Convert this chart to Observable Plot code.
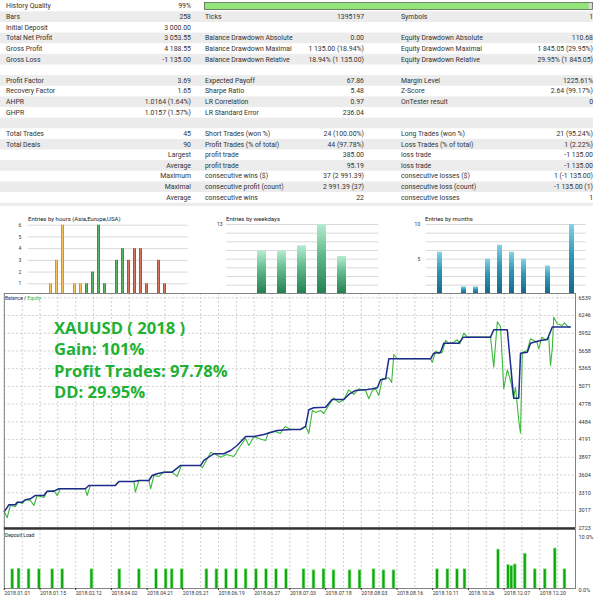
<!DOCTYPE html>
<html><head><meta charset="utf-8">
<script src="https://cdn.jsdelivr.net/npm/d3@7"></script>
<script src="https://cdn.jsdelivr.net/npm/@observablehq/plot@0.6"></script>
<style>
body{margin:0;background:#fff;width:600px;height:600px;overflow:hidden;position:relative;font-family:Roboto,"Liberation Sans",sans-serif}
.abs{position:absolute}
.ttl{position:absolute;font-size:6px;color:#222;white-space:nowrap}
</style></head><body>
<div id="table" class="abs" style="left:0;top:0"></div>
<div id="hours" class="abs" style="left:0;top:205px;width:200px;height:88px;overflow:hidden"></div>
<div id="weekdays" class="abs" style="left:200px;top:205px;width:200px;height:88px;overflow:hidden"></div>
<div id="months" class="abs" style="left:400px;top:205px;width:200px;height:88px;overflow:hidden"></div>
<div class="ttl" style="left:28px;top:215px">Entries by hours (Asia,Europe,USA)</div>
<div class="ttl" style="left:226px;top:215px">Entries by weekdays</div>
<div class="ttl" style="left:425px;top:215px">Entries by months</div>
<div id="load" class="abs" style="left:0;top:529px"></div>
<div id="main" class="abs" style="left:0;top:293px"></div>
<div class="ttl" style="left:5px;top:295px;font-size:5px"><span style="color:#1e2a8c">Balance</span> / <span style="color:#3cb83c">Equity</span></div>
<div class="ttl" style="left:5px;top:532px;font-size:5px">Deposit Load</div>
<svg class="abs" style="left:0;top:0;pointer-events:none" width="600" height="600">
  <g font-family="'Open Sans',Lato,sans-serif" font-weight="700" font-size="16.6" fill="#22b033">
    <text x="54" y="333.5">XAUUSD ( 2018 )</text>
    <text x="54" y="355">Gain: 101%</text>
    <text x="54" y="376.5">Profit Trades: 97.78%</text>
    <text x="54" y="398.3">DD: 29.95%</text>
  </g>
</svg>
<script>
// ---------- DATA ----------
const tableRows = [
 ["History Quality","99%","","","",""],
 ["Bars","258","Ticks","1395197","Symbols","1"],
 ["Initial Deposit","3 000.00","","","",""],
 ["Total Net Profit","3 053.55","Balance Drawdown Absolute","0.00","Equity Drawdown Absolute","110.68"],
 ["Gross Profit","4 188.55","Balance Drawdown Maximal","1 135.00 (18.94%)","Equity Drawdown Maximal","1 845.05 (29.95%)"],
 ["Gross Loss","-1 135.00","Balance Drawdown Relative","18.94% (1 135.00)","Equity Drawdown Relative","29.95% (1 845.05)"],
 [],
 ["Profit Factor","3.69","Expected Payoff","67.86","Margin Level","1225.61%"],
 ["Recovery Factor","1.65","Sharpe Ratio","5.48","Z-Score","2.64 (99.17%)"],
 ["AHPR","1.0164 (1.64%)","LR Correlation","0.97","OnTester result","0"],
 ["GHPR","1.0157 (1.57%)","LR Standard Error","236.04","",""],
 [],
 ["Total Trades","45","Short Trades (won %)","24 (100.00%)","Long Trades (won %)","21 (95.24%)"],
 ["Total Deals","90","Profit Trades (% of total)","44 (97.78%)","Loss Trades (% of total)","1 (2.22%)"],
 ["","Largest","profit trade","385.00","loss trade","-1 135.00"],
 ["","Average","profit trade","95.19","loss trade","-1 135.00"],
 ["","Maximum","consecutive wins ($)","37 (2 991.39)","consecutive losses ($)","1 (-1 135.00)"],
 ["","Maximal","consecutive profit (count)","2 991.39 (37)","consecutive loss (count)","-1 135.00 (1)"],
 ["","Average","consecutive wins","22","consecutive losses","1"],
 []
];
const historyQuality = 99;

const hours = d3.range(24);
const hourCounts = [0,0,1,3,6,0,1,1,1,2,6,1,0,3,4,3,4,4,1,0,3,1,0,0];
const hourZones = hours.map(h => h < 8 ? "Asia" : h < 15 ? "Europe" : "USA");

const weekdays = ["Sun","Mon","Tue","Wed","Thu","Fri","Sat"];
const weekdayCounts = [0,8,8,9,13,7,0];

const months = ["Jan","Feb","Mar","Apr","May","Jun","Jul","Aug","Sep","Oct","Nov","Dec"];
const monthCounts = [6,0,1,1,5,7,6,5,0,4,0,10];

const yTicks = [2723,3017,3310,3604,3897,4191,4484,4778,5071,5365,5658,5952,6246,6539];
const dateLabels = ["2018.01.01","2018.01.15","2018.02.12","2018.04.02","2018.04.21","2018.05.21","2018.06.19","2018.06.27","2018.07.03","2018.07.18","2018.08.03","2018.08.16","2018.10.11","2018.10.26","2018.12.07","2018.12.20"];

// [time index (one unit per date label), value]
const balance = [[0,3000],[0.13,3111],[0.31,3111],[0.36,3154],[0.50,3154],[0.59,3194],[0.73,3210],[0.87,3265],[1.11,3265],[1.20,3336],[1.39,3336],[1.53,3376],[2.27,3376],[2.37,3431],[3.11,3431],[3.21,3497],[3.63,3497],[3.77,3513],[4.05,3513],[4.14,3596],[4.28,3624],[4.47,3651],[4.70,3651],[4.94,3762],[5.50,3762],[5.59,3845],[5.87,3956],[6.15,3956],[6.34,4010],[6.52,4093],[6.76,4242],[6.99,4242],[7.27,4275],[7.64,4341],[8.02,4358],[8.30,4358],[8.44,4408],[8.53,4684],[8.67,4717],[9.00,4727],[9.18,4855],[9.51,4855],[9.65,4938],[9.84,5004],[10.17,5021],[10.31,5032],[10.45,5049],[10.54,5181],[10.68,5198],[10.77,5529],[11.94,5529],[12.03,5622],[12.22,5638],[12.31,5787],[12.73,5787],[12.86,5887],[13.62,5887],[13.71,6009],[14.09,6009],[14.27,4874],[14.41,4874],[14.46,5622],[14.65,5638],[14.74,5787],[14.83,5804],[15.02,5832],[15.21,5848],[15.35,6054],[15.67,6054],[15.85,6054]];

const equity = [[0,3000],[0.08,2896],[0.17,3099],[0.31,3083],[0.40,3154],[0.51,3133],[0.59,3194],[0.73,3183],[0.83,3099],[0.92,3265],[1.11,3232],[1.20,3336],[1.39,3348],[1.48,3265],[1.57,3376],[2.27,3376],[2.32,3265],[2.41,3431],[3.11,3431],[3.21,3497],[3.63,3497],[3.67,3320],[3.77,3513],[4.05,3513],[4.10,3376],[4.19,3596],[4.33,3580],[4.47,3651],[4.70,3651],[4.84,3580],[4.96,3762],[5.50,3762],[5.55,3724],[5.64,3828],[5.78,3977],[5.89,3956],[6.06,3899],[6.22,3944],[6.43,3911],[6.62,4093],[6.76,4209],[6.85,4093],[6.99,4242],[7.12,4209],[7.32,4176],[7.40,4308],[7.60,4325],[7.73,4292],[7.87,4408],[8.02,4358],[8.30,4358],[8.44,4408],[8.53,4297],[8.63,4673],[8.72,4640],[8.86,4673],[8.95,4623],[9.05,4723],[9.23,4883],[9.37,4805],[9.51,4850],[9.65,5015],[9.79,4938],[9.93,5032],[10.12,5004],[10.21,4866],[10.31,5004],[10.40,5032],[10.49,4921],[10.59,5198],[10.77,5214],[10.85,5136],[10.91,5600],[11.01,5529],[11.94,5529],[11.99,5468],[12.08,5655],[12.17,5612],[12.27,5638],[12.36,5832],[12.45,5787],[12.59,5804],[12.69,5843],[12.76,5777],[12.87,5953],[12.97,5887],[13.62,5887],[13.71,5390],[13.81,6142],[13.90,6064],[13.99,5032],[14.09,5347],[14.18,5169],[14.27,4893],[14.32,5058],[14.41,4507],[14.46,4297],[14.51,5638],[14.65,5666],[14.74,5860],[14.83,5832],[14.92,5804],[14.97,5694],[15.06,5887],[15.16,5843],[15.25,5887],[15.30,5418],[15.35,5694],[15.39,6218],[15.49,6108],[15.63,6080],[15.69,6125],[15.78,6064],[15.85,6054]];

// [time index, deposit load %]
const depositLoad = [[0.22,3.7],[0.40,3.8],[0.68,3.7],[0.97,3.7],[1.34,3.7],[1.62,3.7],[2.44,3.7],[3.22,3.7],[3.77,3.7],[4.25,3.7],[4.52,3.7],[4.69,3.7],[4.97,3.7],[5.66,3.7],[5.94,3.7],[6.21,3.7],[6.49,3.7],[6.76,3.7],[7.05,3.7],[7.33,3.7],[7.61,3.7],[7.89,3.7],[8.38,3.7],[8.66,3.5],[8.94,3.7],[9.22,3.5],[9.67,3.5],[9.95,3.5],[10.34,3.7],[10.62,3.5],[10.90,3.5],[12.12,3.7],[12.41,3.7],[12.68,3.7],[12.89,3.7],[13.83,7.4],[14.11,4.5],[14.20,4.3],[14.30,4.6],[14.58,6.6],[14.86,3.7],[15.14,3.7],[15.42,7.6],[15.69,3.7]];

// ---------- TABLE ----------
(function(){
  const rowH = 10.63, top0 = 0.7;
  const cols = [[6,"start"],[191,"end"],[205,"start"],[364,"end"],[401,"start"],[593,"end"]];
  const svg = d3.create("svg").attr("width",600).attr("height",206)
    .style("font-family","Roboto,'Liberation Sans',sans-serif").style("font-size","6.9px");
  tableRows.forEach((row,k)=>{
    const y = top0 + k*rowH;
    if (k % 2 === 1) svg.append("rect").attr("x",0).attr("y",y).attr("width",593).attr("height",rowH).attr("fill","#ececec");
    row.forEach((cell,i)=>{
      if (!cell) return;
      svg.append("text").attr("x",cols[i][0]).attr("y",y+rowH/2+2.4)
        .attr("text-anchor",cols[i][1]).attr("fill","#333").text(cell);
    });
  });
  const qx = d3.scaleLinear().domain([0,100]).range([204.5,592.5]);
  svg.append("rect").attr("x",qx(0)).attr("y",2.5).attr("width",qx(100)-qx(0)).attr("height",7).attr("fill","#d8d8d8");
  svg.append("rect").attr("x",qx(0)).attr("y",2.5).attr("width",qx(historyQuality)-qx(0)).attr("height",7).attr("fill","#93e57a");
  svg.append("rect").attr("x",qx(0)).attr("y",2.5).attr("width",qx(100)-qx(0)).attr("height",7).attr("fill","none").attr("stroke","#5a6a55").attr("stroke-width",0.8);
  document.getElementById("table").appendChild(svg.node());
})();

function addDefs(svg, html){
  d3.select(svg).insert("defs", ":first-child").html(html);
  return svg;
}
const baseStyle = {background:"transparent", color:"#333", fontFamily:"Roboto,'Liberation Sans',sans-serif", overflow:"visible"};

// ---------- HOURS ----------
const hourData = hours.map((h,i)=>({h, n: hourCounts[i], zone: hourZones[i]}));
const hoursChart = Plot.plot({
  width:200, height:90, marginLeft:27.7, marginRight:12.3, marginTop:19.7, marginBottom:0,
  style: baseStyle,
  x:{type:"band", domain:hours, padding:0.5, axis:null},
  y:{domain:[0,6], axis:null},
  marks:[
    Plot.ruleY(d3.range(1,7), {stroke:"#cfcfcf", strokeWidth:0.8}),
    Plot.axisY({ticks:d3.range(1,7), tickFormat:d=>String(d), tickSize:0, tickPadding:7, fontSize:5, label:null}),
    Plot.barY(hourData.filter(d=>d.zone==="Asia"), {x:"h", y:"n", fill:"url(#gAsia)"}),
    Plot.barY(hourData.filter(d=>d.zone==="Europe"), {x:"h", y:"n", fill:"url(#gEurope)"}),
    Plot.barY(hourData.filter(d=>d.zone==="USA"), {x:"h", y:"n", fill:"url(#gUSA)"})
  ]
});
addDefs(hoursChart, `
<linearGradient id="gAsia" x1="0" x2="1" y1="0" y2="0"><stop offset="0" stop-color="#c07e1c"/><stop offset="0.5" stop-color="#f7c25e"/><stop offset="1" stop-color="#c07e1c"/></linearGradient>
<linearGradient id="gEurope" x1="0" x2="1" y1="0" y2="0"><stop offset="0" stop-color="#277a34"/><stop offset="0.5" stop-color="#5cb866"/><stop offset="1" stop-color="#277a34"/></linearGradient>
<linearGradient id="gUSA" x1="0" x2="1" y1="0" y2="0"><stop offset="0" stop-color="#9a3a2a"/><stop offset="0.5" stop-color="#d9765e"/><stop offset="1" stop-color="#9a3a2a"/></linearGradient>`);
document.getElementById("hours").appendChild(hoursChart);

// ---------- WEEKDAYS ----------
const weekdayData = weekdays.map((d,i)=>({d, n: weekdayCounts[i]}));
const wdMax = d3.max(weekdayCounts);
const weekdaysChart = Plot.plot({
  width:200, height:90, marginLeft:26, marginRight:22, marginTop:19, marginBottom:1.7,
  style: baseStyle,
  x:{type:"band", domain:weekdays, padding:0.54, axis:null},
  y:{domain:[0,wdMax], axis:null},
  marks:[
    Plot.ruleY(d3.range(0,9).map(i=>i*wdMax/8), {stroke:"#cfcfcf", strokeWidth:0.8}),
    Plot.axisY({ticks:[wdMax], tickFormat:d=>String(d), tickSize:0, tickPadding:4, fontSize:5, label:null}),
    Plot.barY(weekdayData, {x:"d", y:"n", fill:"url(#gWeek)"})
  ]
});
addDefs(weekdaysChart, `<linearGradient id="gWeek" x1="0" x2="0" y1="0" y2="1"><stop offset="0" stop-color="#b4ecd0"/><stop offset="0.45" stop-color="#5fb98a"/><stop offset="1" stop-color="#23804f"/></linearGradient>`);
document.getElementById("weekdays").appendChild(weekdaysChart);

// ---------- MONTHS ----------
const monthData = months.map((m,i)=>({m, n: monthCounts[i]}));
const monthsChart = Plot.plot({
  width:200, height:90, marginLeft:25.7, marginRight:14.3, marginTop:19, marginBottom:1.7,
  style: baseStyle,
  x:{type:"band", domain:months, padding:0.55, axis:null},
  y:{domain:[0,10], axis:null},
  marks:[
    Plot.ruleY(d3.range(0,9).map(i=>i*1.25), {stroke:"#cfcfcf", strokeWidth:0.8}),
    Plot.axisY({ticks:[5,10], tickFormat:d=>String(d), tickSize:0, tickPadding:6, fontSize:5, label:null}),
    Plot.barY(monthData, {x:"m", y:"n", fill:"url(#gMonth)"})
  ]
});
addDefs(monthsChart, `<linearGradient id="gMonth" x1="0" x2="0" y1="0" y2="1"><stop offset="0" stop-color="#86d2e6"/><stop offset="0.45" stop-color="#2f97b5"/><stop offset="1" stop-color="#16688a"/></linearGradient>`);
document.getElementById("months").appendChild(monthsChart);

// ---------- MAIN BALANCE / EQUITY ----------
const gridT = d3.range(0, 16.001, 0.5);
const mainChart = Plot.plot({
  width:600, height:236, marginLeft:3.8, marginRight:25, marginTop:0, marginBottom:1.3,
  style: baseStyle,
  x:{domain:[0,16], axis:null},
  y:{domain:[2723,6610], axis:null},
  marks:[
    Plot.ruleX(gridT, {stroke:"#c4c4c4", strokeDasharray:"2,2", strokeWidth:0.8}),
    Plot.ruleY(yTicks, {stroke:"#c4c4c4", strokeDasharray:"2,2", strokeWidth:0.8}),
    Plot.line(equity, {x:d=>d[0], y:d=>d[1], stroke:"#3cb83c", strokeWidth:1.1}),
    Plot.line(balance, {x:d=>d[0], y:d=>d[1], stroke:"#1e2a8c", strokeWidth:1.5}),
    Plot.frame({stroke:"#777", strokeWidth:0.9}),
    Plot.ruleY([2723], {stroke:"#333", strokeWidth:2}),
    Plot.axisY({anchor:"right", ticks:yTicks, tickSize:0, tickPadding:3, fontSize:5.5, label:null, tickFormat:d=>String(d)})
  ]
});
document.getElementById("main").appendChild(mainChart);

// ---------- DEPOSIT LOAD ----------
const loadChart = Plot.plot({
  width:600, height:71, marginLeft:3.8, marginRight:25, marginTop:0, marginBottom:12,
  style: baseStyle,
  x:{domain:[0,16], axis:null},
  y:{domain:[0,10*59/53], axis:null},
  marks:[
    Plot.ruleX(gridT, {stroke:"#c4c4c4", strokeDasharray:"2,2", strokeWidth:0.8}),
    Plot.ruleX(depositLoad, {x:d=>d[0], y1:0, y2:d=>d[1], stroke:"#7de07a", strokeWidth:3.4}),
    Plot.ruleX(depositLoad, {x:d=>d[0], y1:0, y2:d=>d[1]-0.15, stroke:"#11a611", strokeWidth:2}),
    Plot.frame({stroke:"#777", strokeWidth:0.9}),
    Plot.axisX({ticks:d3.range(16), tickFormat:i=>dateLabels[i], textAnchor:"start", tickSize:2, tickPadding:0.5, fontSize:5.2, label:null}),
    Plot.axisY({anchor:"right", ticks:[0,10], tickFormat:d=>d.toFixed(1)+"%", tickSize:0, tickPadding:3, fontSize:5.5, label:null, dy:2})
  ]
});
document.getElementById("load").appendChild(loadChart);
</script>
</body></html>
